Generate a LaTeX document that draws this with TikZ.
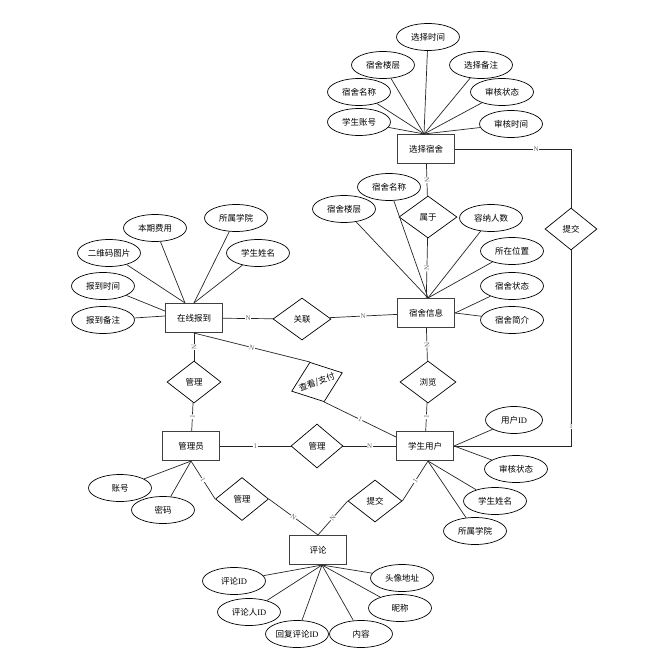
\documentclass[tikz,border=0pt]{standalone}
\usepackage{fontspec}
\setmainfont{Liberation Serif}
\newfontfamily\cjk{Noto Sans CJK SC}
\usetikzlibrary{shapes.geometric}
\newcommand{\rl}[1]{\makebox[0pt]{#1}}

\begin{document}
\begin{tikzpicture}[
  x=1pt,y=-1pt,
  font=\cjk\fontsize{8.5}{10}\selectfont,
  ent/.style={rectangle,draw=black!75,line width=1.1pt,fill=white,minimum width=57pt,minimum height=29pt,inner sep=0pt},
  attr/.style={ellipse,draw=black,line width=0.7pt,fill=white,minimum width=63pt,minimum height=27pt,inner sep=0pt},
  rel/.style={diamond,draw=black,line width=0.7pt,fill=white,minimum width=56pt,minimum height=42pt,inner sep=0pt},
  ln/.style={draw=black!85,line width=0.7pt},
  card/.style={font=\rmfamily\fontsize{7}{8}\selectfont,text=black!60,fill=white,inner sep=0.6pt}
]
\useasboundingbox (0,0) rectangle (658,658);
% entities
\node[ent] (sel) at (426,149) {选择宿舍};
\node[ent] (dorm) at (426,313) {宿舍信息};
\node[ent] (reg) at (194,318) {在线报到};
\node[ent] (adm) at (191,446) {管理员};
\node[ent] (stu) at (425,446) {学生用户};
\node[ent] (com) at (318,550) {评论};
% relations
\node[rel,minimum width=58pt] (belong) at (428,217) {\rl{属于}};
\node[rel,minimum width=58pt] (link) at (302,319) {\rl{关联}};
\node[rel] (browse) at (428,382) {\rl{浏览}};
\node[rel,minimum width=54pt] (mgr1) at (194,382) {\rl{管理}};
\node[rel,minimum width=52pt,minimum height=44pt] (mgr2) at (317,446) {\rl{管理}};
\node[rel,minimum width=54pt,rotate=20] (pay) at (317,382) {\rl{查看/支付}};
\node[rel,minimum width=53pt,minimum height=43pt] (mgr3) at (242,499) {\rl{管理}};
\node[rel,minimum width=54pt] (sub1) at (375,501) {\rl{提交}};
\node[rel,minimum width=52pt] (sub2) at (571,229) {\rl{提交}};

% attributes of 选择宿舍
\node[attr] (a1) at (428,37) {选择时间};
\node[attr] (a2) at (383,65) {宿舍楼层};
\node[attr] (a3) at (481,65) {选择备注};
\node[attr] (a4) at (359,92) {宿舍名称};
\node[attr] (a5) at (502,92) {审核状态};
\node[attr] (a6) at (359,122) {学生账号};
\node[attr] (a7) at (511,124) {审核时间};
\foreach \a in {a1,a2,a3,a4,a5,a6,a7}
  \draw[ln] (\a) -- ([xshift=-2pt]sel.north);

% attributes of 宿舍信息
\node[attr] (b1) at (389,187) {宿舍名称};
\node[attr] (b2) at (344,209) {宿舍楼层};
\node[attr] (b3) at (491,218) {容纳人数};
\node[attr] (b4) at (512,251) {所在位置};
\node[attr] (b5) at (512,286) {宿舍状态};
\node[attr] (b6) at (512,320) {宿舍简介};
\foreach \b in {b1,b2,b3,b4}
  \draw[ln] (\b) -- ([xshift=2pt]dorm.north);
\draw[ln] (b5) -- (dorm.east);
\draw[ln] (b6) -- (dorm.east);

% attributes of 在线报到
\node[attr] (c1) at (236,218) {所属学院};
\node[attr] (c2) at (155,228) {本期费用};
\node[attr] (c3) at (109,253) {二维码图片};
\node[attr] (c4) at (258,253) {学生姓名};
\node[attr] (c5) at (103,286) {报到时间};
\node[attr] (c6) at (103,320) {报到备注};
\draw[ln] (c2) -- ([xshift=-9pt]reg.north);
\draw[ln] (c3) -- ([xshift=-9pt]reg.north);
\draw[ln] (c1) -- (reg.north);
\draw[ln] (c4) -- (reg.north);
\draw[ln] (c5) -- ([yshift=7pt]reg.west);
\draw[ln] (c6) -- ([yshift=2pt]reg.west);

% attributes of 管理员
\node[attr] (d1) at (120,488) {账号};
\node[attr] (d2) at (163,510) {密码};
\draw[ln] (d1) -- (adm.south);
\draw[ln] (d2) -- (adm.south);

% attributes of 学生用户
\node[attr,minimum width=57pt] (e1) at (514,420) {用户\textrm{ID}};
\node[attr] (e2) at (516,469) {审核状态};
\node[attr] (e3) at (495,501) {学生姓名};
\node[attr] (e4) at (475,531) {所属学院};
\draw[ln] (e1) -- (stu.east);
\draw[ln] (e2) -- (stu.east);
\draw[ln] (e3) -- ([xshift=3pt]stu.south);
\draw[ln] (e4) -- ([xshift=3pt]stu.south);

% attributes of 评论
\node[attr] (f1) at (234,581) {评论\textrm{ID}};
\node[attr] (f2) at (402,578) {头像地址};
\node[attr] (f3) at (249,612) {评论人\textrm{ID}};
\node[attr] (f4) at (400,608) {昵称};
\node[attr] (f5) at (297,634) {回复评论\textrm{ID}};
\node[attr] (f6) at (361,634) {内容};
\foreach \f in {f1,f2,f3,f4,f5,f6}
  \draw[ln] (\f) -- ([xshift=4pt]com.south);

% relationships
\draw[ln] (sel) -- node[card,sloped]{N} (belong);
\draw[ln] (belong) -- node[card,sloped]{N} (dorm);
\draw[ln] (reg) -- node[card]{N} (link);
\draw[ln] (link) -- node[card]{N} (dorm);
\draw[ln] (dorm) -- node[card,sloped]{N} (browse);
\draw[ln] (browse) -- node[card,sloped]{1} (stu);
\draw[ln] (reg) -- node[card,sloped]{N} (mgr1);
\draw[ln] (mgr1) -- node[card,sloped]{1} (adm);
\draw[ln] (adm) -- node[card]{1} (mgr2);
\draw[ln] (mgr2) -- node[card]{N} (stu);
\draw[ln] (reg.south) -- node[card,sloped]{N} (pay.north);
\draw[ln] (pay.south) -- node[card,sloped]{1} ([yshift=-6pt]stu.north west);
\draw[ln] (adm.south) -- node[card,sloped]{1} (mgr3.west);
\draw[ln] (mgr3.east) -- node[card,sloped]{N} (com.north);
\draw[ln] (com.north) -- node[card,sloped]{N} (sub1.west);
\draw[ln] (sub1.east) -- node[card,sloped]{1} ([xshift=3pt]stu.south);
\draw[ln] (sel.east) -| node[card,pos=0.35]{N} (sub2.north);
\draw[ln] (stu.east) -| node[card,pos=0.55]{1} (sub2.south);
\end{tikzpicture}
\end{document}
